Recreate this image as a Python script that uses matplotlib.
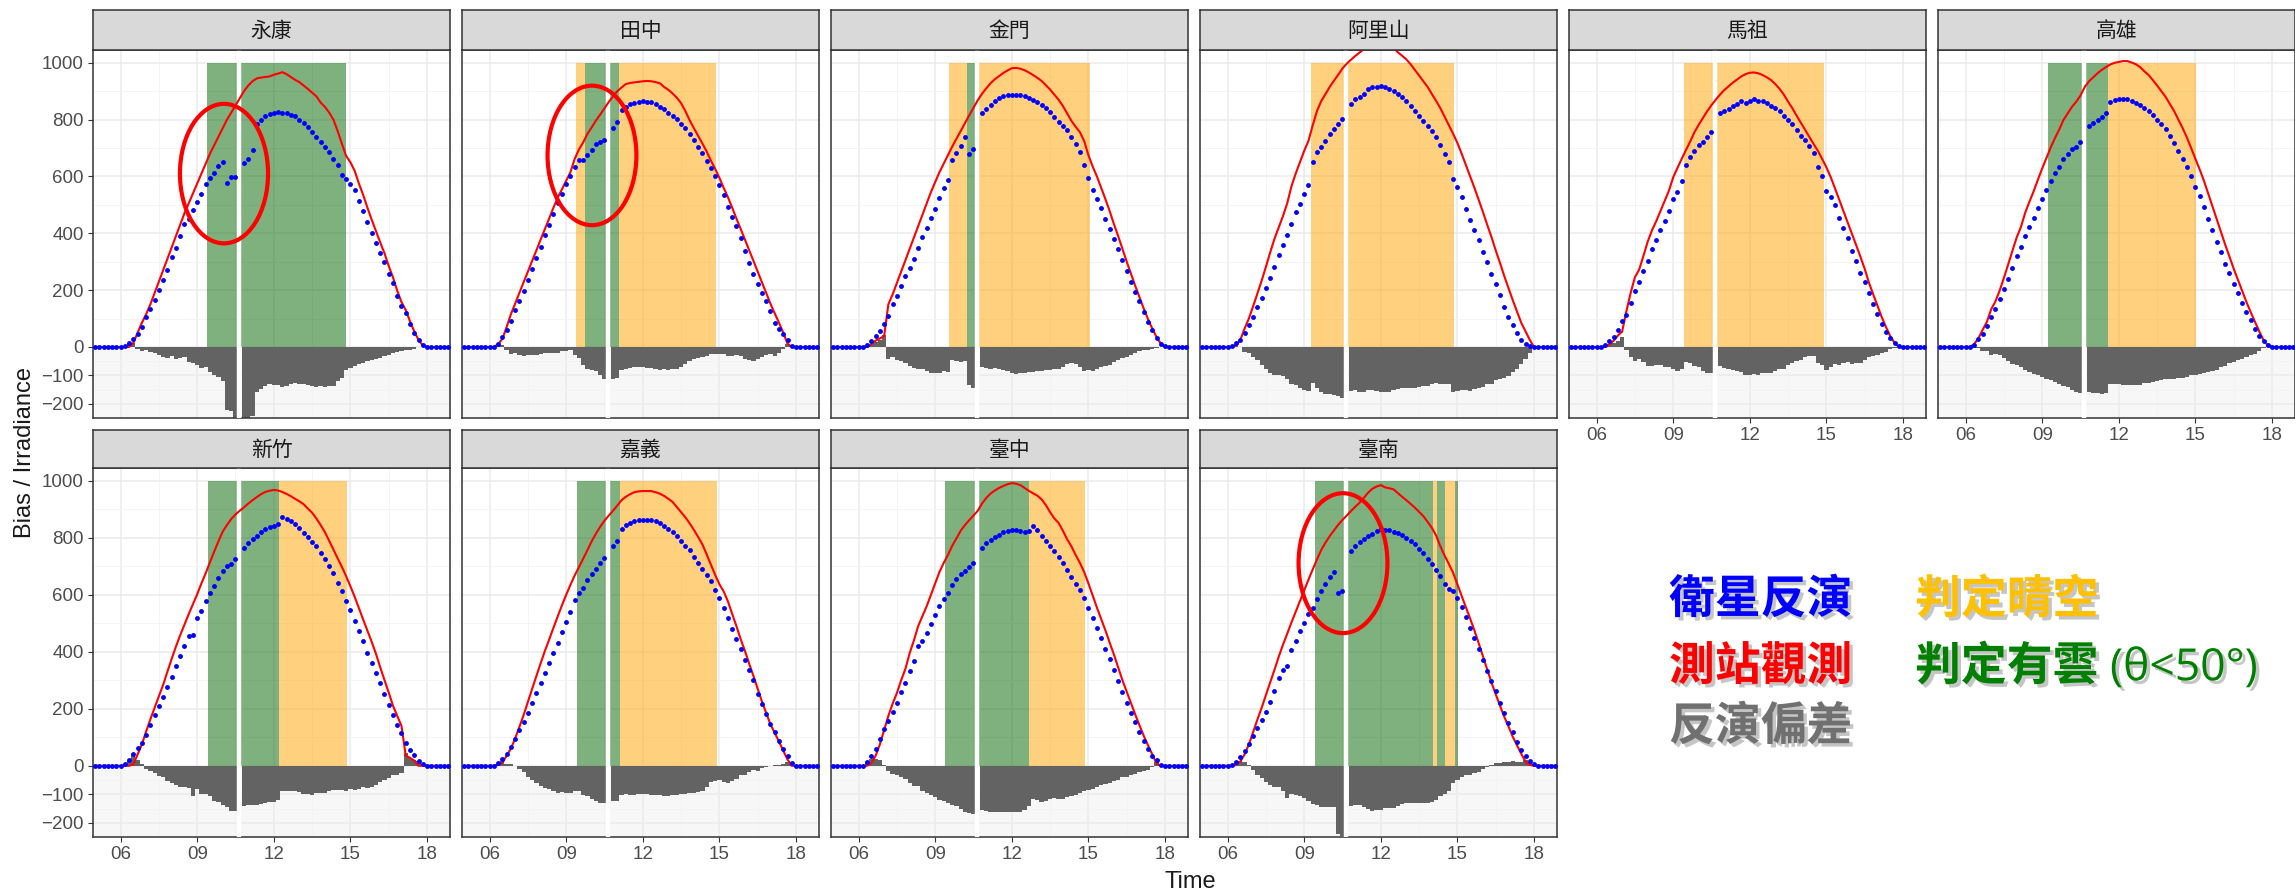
import numpy as np
import matplotlib
matplotlib.use('Agg')
import matplotlib.pyplot as plt
import matplotlib.patheffects as pe
from matplotlib.patches import Ellipse

plt.rcParams['font.family'] = ['Liberation Sans', 'Noto Sans CJK TC', 'DejaVu Sans']

nan = np.nan

# time of day, one value every 10 minutes from 05:00 to 18:50
hours = np.arange(84) / 6 + 5

# ---- station data (W/m2), rows = 05h ... 18h, six 10-min values each ----
yongkang_obs = [0, 0, 0, 0, 0, 0,
                0, 0, 0, 14, 50, 85,
                115, 150, 190, 230, 270, 310,
                350, 390, 430, 470, 505, 540,
                575, 610, 645, 680, 710, 740,
                770, 800, 825, 850, 875, 900,
                920, 935, 945, 948, 950, 952,
                958, 962, 967, 960, 950, 940,
                932, 920, 908, 895, 882, 860,
                845, 825, 800, 760, 715, 672,
                650, 620, 575, 535, 490, 448,
                408, 368, 330, 285, 245, 198,
                158, 130, 90, 55, 25, 5,
                0, 0, 0, 0, 0, 0]
yongkang_sat = [0, 0, 0, 0, 0, 0,
                0, 3, 15, 27, 44, 70,
                105, 133, 167, 200, 236, 272,
                318, 348, 390, 433, 452, 482,
                510, 537, 575, 593, 612, 636,
                650, 578, 599, 599, nan, 648,
                662, 692, 786, 800, 813, 820,
                825, 827, 825, 822, 818, 812,
                800, 788, 774, 756, 740, 722,
                704, 686, 662, 640, 605, 590,
                575, 552, 515, 478, 440, 402,
                366, 330, 298, 258, 225, 180,
                145, 120, 80, 48, 25, 6,
                0, 0, 0, 0, 0, 0]

tianzhong_obs = [0, 0, 0, 0, 0, 0,
                 0, 0, 10, 28, 70, 115,
                 152, 190, 228, 265, 303, 340,
                 378, 415, 452, 490, 525, 555,
                 585, 615, 662, 695, 720, 750,
                 773, 797, 818, 840, 862, 882,
                 900, 913, 925, 929, 931, 933,
                 935, 936, 935, 932, 928, 915,
                 905, 892, 877, 858, 830, 798,
                 770, 743, 716, 688, 656, 627,
                 595, 560, 527, 490, 452, 415,
                 378, 340, 303, 265, 227, 190,
                 152, 118, 85, 50, 12, 0,
                 0, 0, 0, 0, 0, 0]
tianzhong_sat = [0, 0, 0, 0, 0, 0,
                 0, 0, 12, 35, 60, 90,
                 131, 160, 197, 236, 275, 313,
                 353, 394, 430, 468, 505, 540,
                 572, 603, 632, 657, 657, 674,
                 692, 714, 721, 727, nan, 770,
                 790, 833, 846, 854, 860, 863,
                 864, 863, 861, 856, 846, 836,
                 824, 813, 801, 786, 769, 750,
                 727, 705, 681, 656, 630, 603,
                 570, 535, 494, 458, 424, 382,
                 337, 294, 255, 222, 191, 160,
                 128, 86, 63, 44, 24, 3,
                 0, 0, 0, 0, 0, 0]

kinmen_obs = [0, 0, 0, 0, 0, 0,
              0, 0, 0, 10, 22, 30,
              38, 150, 185, 225, 265, 305,
              345, 385, 425, 465, 505, 545,
              580, 615, 645, 675, 705, 733,
              760, 788, 815, 842, 868, 891,
              910, 928, 942, 953, 964, 973,
              981, 982, 979, 974, 966, 957,
              947, 936, 921, 906, 888, 870,
              848, 822, 796, 775, 756, 725,
              675, 635, 600, 560, 520, 478,
              432, 390, 345, 300, 258, 215,
              175, 135, 98, 65, 35, 12,
              0, 0, 0, 0, 0, 0]
kinmen_sat = [0, 0, 0, 0, 0, 0,
              0, 0, 7, 22, 38, 55,
              80, 108, 150, 180, 215, 250,
              277, 310, 348, 387, 420, 455,
              487, 523, 559, 588, 658, 684,
              708, 738, 680, 697, nan, 822,
              836, 851, 867, 875, 882, 887,
              888, 888, 888, 884, 877, 870,
              861, 851, 840, 826, 809, 793,
              779, 762, 738, 714, 685, 640,
              595, 551, 521, 489, 452, 416,
              380, 345, 307, 266, 229, 194,
              160, 123, 88, 59, 31, 12,
              2, 0, 0, 0, 0, 0]

alishan_obs = [0, 0, 0, 0, 0, 0,
               0, 0, 5, 25, 65, 100,
               143, 188, 233, 282, 332, 380,
               420, 460, 505, 565, 610, 650,
               690, 725, 780, 830, 865, 890,
               915, 937, 958, 980, 997, 1011,
               1024, 1036, 1048, 1058, 1066, 1072,
               1075, 1073, 1065, 1052, 1037, 1025,
               1012, 995, 975, 955, 935, 915,
               890, 866, 840, 810, 780, 750,
               718, 680, 640, 600, 560, 518,
               475, 430, 387, 340, 296, 250,
               207, 165, 125, 85, 55, 25,
               0, 0, 0, 0, 0, 0]
alishan_sat = [0, 0, 0, 0, 0, 0,
               0, 4, 14, 25, 48, 77,
               106, 142, 171, 206, 241, 282,
               323, 358, 393, 434, 475, 504,
               539, 571, 652, 685, 705, 726,
               750, 767, 785, 802, nan, 855,
               873, 879, 890, 908, 914, 916,
               917, 914, 908, 902, 890, 879,
               867, 849, 832, 814, 796, 779,
               761, 738, 709, 680, 650, 592,
               563, 527, 487, 446, 411, 375,
               335, 299, 258, 223, 182, 142,
               106, 77, 48, 25, 11, 4,
               0, 0, 0, 0, 0, 0]

matsu_obs = [0, 0, 0, 0, 0, 0,
             0, 0, 0, 8, 22, 40,
             54, 125, 190, 245, 272, 320,
             370, 410, 442, 478, 514, 550,
             597, 630, 662, 693, 723, 756,
             782, 806, 830, 851, 870, 888,
             904, 917, 930, 941, 952, 960,
             965, 966, 963, 957, 949, 939,
             925, 908, 888, 863, 840, 814,
             789, 764, 739, 714, 690, 662,
             632, 598, 559, 519, 478, 438,
             398, 358, 317, 275, 226, 185,
             145, 105, 70, 38, 15, 0,
             0, 0, 0, 0, 0, 0]
matsu_sat = [0, 0, 0, 0, 0, 0,
             0, 0, 8, 20, 35, 60,
             90, 113, 156, 196, 230, 266,
             304, 343, 377, 413, 443, 478,
             520, 545, 585, 640, 668, 690,
             710, 722, 738, 758, nan, 822,
             829, 839, 848, 856, 865, 860,
             867, 872, 866, 867, 858, 849,
             841, 830, 812, 800, 784, 765,
             743, 728, 708, 682, 635, 600,
             550, 528, 500, 455, 420, 385,
             338, 302, 260, 228, 190, 152,
             115, 82, 54, 30, 13, 5,
             0, 0, 0, 0, 0, 0]

kaohsiung_obs = [0, 0, 0, 0, 0, 0,
                 0, 0, 10, 30, 60, 88,
                 132, 160, 198, 243, 290, 338,
                 385, 422, 472, 511, 548, 589,
                 628, 665, 702, 735, 765, 799,
                 822, 845, 863, 885, 915, 935,
                 949, 963, 975, 985, 994, 1000,
                 1003, 1006, 1006, 1001, 995, 985,
                 970, 957, 939, 920, 900, 880,
                 855, 830, 800, 770, 737, 700,
                 662, 625, 585, 540, 495, 450,
                 405, 360, 318, 275, 236, 197,
                 158, 122, 88, 55, 24, 5,
                 0, 0, 0, 0, 0, 0]
kaohsiung_sat = [0, 0, 0, 0, 0, 0,
                 0, 0, 8, 27, 46, 75,
                 105, 135, 168, 203, 240, 278,
                 320, 350, 392, 423, 453, 489,
                 522, 553, 584, 611, 635, 663,
                 680, 695, 705, 722, nan, 776,
                 788, 800, 810, 822, 862, 868,
                 871, 873, 872, 867, 860, 852,
                 842, 830, 816, 800, 783, 766,
                 742, 718, 691, 662, 633, 600,
                 563, 530, 494, 451, 412, 370,
                 333, 293, 260, 222, 190, 155,
                 122, 95, 63, 40, 20, 7,
                 0, 0, 0, 0, 0, 0]

hsinchu_obs = [0, 0, 0, 0, 0, 0,
               0, 0, 0, 5, 40, 75,
               120, 163, 204, 244, 284, 330,
               375, 418, 458, 495, 532, 567,
               602, 640, 676, 714, 752, 788,
               822, 845, 866, 882, 895, 907,
               920, 932, 943, 953, 961, 965,
               968, 966, 961, 954, 946, 937,
               928, 918, 903, 888, 868, 845,
               820, 790, 759, 728, 698, 665,
               630, 593, 553, 513, 474, 435,
               393, 346, 301, 257, 211, 175,
               140, 35, 28, 18, 0, 0,
               0, 0, 0, 0, 0, 0]
hsinchu_sat = [0, 0, 0, 0, 0, 0,
               0, 6, 20, 43, 61, 81,
               108, 143, 178, 208, 243, 278,
               313, 349, 384, 419, 455, 460,
               519, 542, 577, 607, 630, 660,
               683, 701, 707, 724, nan, 765,
               783, 795, 806, 820, 830, 839,
               841, 847, 872, 866, 859, 847,
               836, 818, 804, 785, 771, 748,
               726, 701, 675, 642, 613, 577,
               548, 507, 472, 437, 395, 360,
               325, 290, 252, 214, 178, 143,
               114, 79, 55, 38, 18, 6,
               0, 0, 0, 0, 0, 0]

chiayi_obs = [0, 0, 0, 0, 0, 0,
              0, 0, 3, 10, 35, 60,
              96, 136, 178, 224, 270, 315,
              360, 403, 443, 484, 524, 563,
              600, 635, 668, 697, 727, 757,
              788, 815, 839, 860, 878, 895,
              913, 932, 944, 953, 960, 963,
              964, 964, 964, 960, 955, 947,
              937, 926, 908, 890, 872, 851,
              828, 803, 777, 742, 706, 670,
              637, 612, 577, 533, 490, 444,
              403, 358, 315, 270, 225, 185,
              145, 115, 85, 53, 22, 0,
              0, 0, 0, 0, 0, 0]
chiayi_sat = [0, 0, 0, 0, 0, 0,
              0, 0, 8, 25, 40, 65,
              95, 125, 155, 185, 220, 255,
              290, 325, 362, 395, 430, 470,
              505, 540, 580, 607, 625, 652,
              672, 690, 710, 730, nan, 772,
              790, 830, 844, 852, 859, 864,
              864, 864, 863, 858, 851, 841,
              830, 822, 805, 790, 773, 757,
              732, 710, 690, 668, 648, 617,
              588, 555, 518, 480, 445, 410,
              370, 335, 300, 253, 217, 182,
              145, 118, 88, 59, 35, 10,
              0, 0, 0, 0, 0, 0]

taichung_obs = [0, 0, 0, 0, 0, 0,
                0, 0, 0, 10, 35, 75,
                125, 175, 218, 255, 300, 340,
                395, 440, 490, 525, 560, 600,
                640, 680, 712, 740, 772, 798,
                825, 845, 862, 878, 895, 920,
                940, 955, 966, 975, 982, 988,
                992, 990, 985, 975, 965, 956,
                948, 935, 915, 890, 868, 852,
                825, 795, 770, 740, 712, 680,
                640, 598, 555, 515, 475, 432,
                390, 345, 300, 260, 220, 180,
                142, 105, 72, 40, 8, 0,
                0, 0, 0, 0, 0, 0]
taichung_sat = [0, 0, 0, 0, 0, 0,
                0, 0, 12, 33, 58, 94,
                128, 157, 189, 222, 259, 292,
                333, 368, 420, 437, 466, 499,
                530, 560, 587, 608, 634, 657,
                673, 684, 696, 710, nan, 765,
                781, 793, 802, 811, 820, 825,
                828, 827, 824, 820, 825, 840,
                828, 808, 790, 773, 755, 734,
                710, 686, 664, 638, 616, 590,
                555, 517, 482, 447, 410, 373,
                336, 296, 260, 222, 186, 152,
                119, 87, 58, 36, 20, 4,
                0, 0, 0, 0, 0, 0]

tainan_obs = [0, 0, 0, 0, 0, 0,
              0, 0, 3, 15, 40, 75,
              118, 162, 203, 248, 292, 336,
              382, 424, 463, 503, 540, 578,
              615, 653, 689, 724, 757, 783,
              806, 826, 846, 863, 878, 894,
              909, 923, 940, 958, 972, 980,
              985, 977, 974, 970, 957, 944,
              932, 919, 906, 891, 876, 856,
              835, 808, 770, 737, 708, 677,
              637, 596, 556, 516, 475, 430,
              384, 338, 293, 251, 211, 172,
              138, 102, 72, 42, 15, 3,
              0, 0, 0, 0, 0, 0]
tainan_sat = [0, 0, 0, 0, 0, 0,
              0, 3, 12, 30, 52, 76,
              103, 131, 161, 190, 223, 262,
              308, 335, 350, 405, 438, 472,
              502, 531, 555, 585, 614, 638,
              662, 680, 605, 615, nan, 752,
              772, 784, 796, 807, 815, 825,
              830, 829, 826, 822, 816, 809,
              800, 790, 777, 762, 746, 727,
              708, 688, 665, 637, 620, 615,
              588, 558, 523, 484, 448, 409,
              372, 334, 296, 261, 222, 185,
              151, 118, 85, 55, 34, 17,
              6, 0, 0, 0, 0, 0]

# sky flag periods (start hour, end hour, 'clear' / 'cloud')
yongkang_flags = [(9.40, 14.83, 'cloud')]
tianzhong_flags = [(9.38, 9.73, 'clear'), (9.73, 11.06, 'cloud'), (11.06, 14.86, 'clear')]
kinmen_flags = [(9.54, 10.23, 'clear'), (10.23, 10.62, 'cloud'), (10.62, 15.05, 'clear')]
alishan_flags = [(9.26, 14.87, 'clear')]
matsu_flags = [(9.43, 14.90, 'clear')]
kaohsiung_flags = [(9.24, 11.58, 'cloud'), (11.58, 15.03, 'clear')]
hsinchu_flags = [(9.42, 12.22, 'cloud'), (12.22, 14.88, 'clear')]
chiayi_flags = [(9.42, 11.10, 'cloud'), (11.10, 14.92, 'clear')]
taichung_flags = [(9.38, 12.68, 'cloud'), (12.68, 14.86, 'clear')]
tainan_flags = [(9.42, 14.04, 'cloud'), (14.04, 14.21, 'clear'), (14.21, 14.53, 'cloud'),
                (14.53, 14.89, 'clear'), (14.89, 15.02, 'cloud')]

panels = [
    ('永康', yongkang_obs, yongkang_sat, yongkang_flags),
    ('田中', tianzhong_obs, tianzhong_sat, tianzhong_flags),
    ('金門', kinmen_obs, kinmen_sat, kinmen_flags),
    ('阿里山', alishan_obs, alishan_sat, alishan_flags),
    ('馬祖', matsu_obs, matsu_sat, matsu_flags),
    ('高雄', kaohsiung_obs, kaohsiung_sat, kaohsiung_flags),
    ('新竹', hsinchu_obs, hsinchu_sat, hsinchu_flags),
    ('嘉義', chiayi_obs, chiayi_sat, chiayi_flags),
    ('臺中', taichung_obs, taichung_sat, taichung_flags),
    ('臺南', tainan_obs, tainan_sat, tainan_flags),
]

# circled problem spots: station -> (centre hour, centre value, width h, height)
circles = {'永康': (10.05, 610, 3.45, 491),
           '田中': (10.01, 674, 3.48, 491),
           '臺南': (10.52, 711, 3.48, 491)}

band_colors = {'clear': '#FFA500', 'cloud': '#006400'}

W, H = 2295, 894
fig = plt.figure(figsize=(W / 100, H / 100), dpi=100)

col_left = [93, 462, 831, 1200, 1569, 1938]
pw = 357
rows = [(10, 50, 418), (430, 468, 837)]


def rect(x0, y0, x1, y1):
    return [x0 / W, 1 - y1 / H, (x1 - x0) / W, (y1 - y0) / H]


for i, (name, obs, sat, flags) in enumerate(panels):
    r, c = divmod(i, 6)
    st, pt, pb = rows[r]
    x0 = col_left[c]
    ax = fig.add_axes(rect(x0, pt, x0 + pw, pb))
    sax = fig.add_axes(rect(x0, st, x0 + pw, pt))

    obs = np.array(obs, dtype=float)
    sat = np.array(sat, dtype=float)
    bias = sat - obs

    ax.set_axisbelow(True)
    ax.axhspan(-300, 0, color='#F7F7F7', lw=0, zorder=0.1)
    for a, b, kind in flags:
        ax.fill_between([a, b], 0, 1000, color=band_colors[kind], alpha=0.5, lw=0, zorder=1)
    ok = ~np.isnan(bias)
    ax.bar(hours[ok], bias[ok], width=1 / 6, color='#636363', lw=0, zorder=2)
    ax.axvline(10.62, color='white', lw=3.2, zorder=3)
    ax.plot(hours, obs, color='#FF0000', lw=1.5, zorder=4)
    ax.plot(hours, sat, 'o', color='#0000FF', ms=3.5, mec='none', zorder=5)

    if name in circles:
        cx, cy, ew, eh = circles[name]
        ax.add_patch(Ellipse((cx, cy), ew, eh, fill=False, ec='#FF0000', lw=3.0,
                             zorder=6, clip_on=False))

    ax.set_xlim(4.92, 18.9)
    ax.set_ylim(-250, 1045)
    ax.set_xticks([6, 9, 12, 15, 18])
    ax.set_xticklabels(['06', '09', '12', '15', '18'])
    ax.set_xticks([7.5, 10.5, 13.5, 16.5], minor=True)
    ax.set_yticks([-200, -100, 0, 200, 400, 600, 800, 1000])
    ax.set_yticks([-150, -50, 100, 300, 500, 700, 900], minor=True)
    ax.grid(which='major', color='#EBEBEB', lw=1.1)
    ax.grid(which='minor', color='#F3F3F3', lw=0.6)
    ax.tick_params(which='minor', length=0)
    ax.tick_params(which='major', direction='out', length=3.6, width=0.8, color='#333333',
                   labelsize=13.5, labelcolor='#4D4D4D', pad=3)
    show_x = (r == 1) or (c >= 4)
    ax.tick_params(bottom=show_x, labelbottom=show_x, left=(c == 0), labelleft=(c == 0))
    for sp in ax.spines.values():
        sp.set_color('#333333')
        sp.set_linewidth(1.1)

    sax.set_facecolor('#D9D9D9')
    sax.set_xticks([])
    sax.set_yticks([])
    for sp in sax.spines.values():
        sp.set_color('#333333')
        sp.set_linewidth(1.1)
    sax.text(0.5, 0.48, name, ha='center', va='center', fontsize=15, color='#1A1A1A',
             family=['Noto Sans CJK TC', 'DejaVu Sans'], transform=sax.transAxes)

fig.text(25 / W, 1 - 452 / H, 'Bias / Irradiance', rotation=90, ha='center', va='center',
         fontsize=17, color='#1A1A1A')
fig.text(1190 / W, 1 - 882 / H, 'Time', ha='center', va='center', fontsize=17, color='#1A1A1A')

# colour key written as text
shadow = [pe.SimplePatchShadow(offset=(2.5, -2.5), shadow_rgbFace='#8C8C8C', alpha=0.5), pe.Normal()]
cjk = ['Noto Sans CJK TC', 'DejaVu Sans']
key = [('衛星反演', '#0000FF', 1669, 600), ('測站觀測', '#FF0000', 1669, 667),
       ('反演偏差', '#707070', 1669, 727), ('判定晴空', '#FFC000', 1915, 600),
       ('判定有雲', '#008000', 1915, 667)]
for label, col, x, y in key:
    fig.text(x / W, 1 - y / H, label, ha='left', va='center', fontsize=33, fontweight='bold',
             color=col, family=cjk, path_effects=shadow)
fig.text(2110 / W, 1 - 669 / H, '(θ<50°)', ha='left', va='center', fontsize=32,
         color='#008000', family=['Open Sans', 'DejaVu Sans'], path_effects=shadow)

fig.savefig('out.png', dpi=100)
